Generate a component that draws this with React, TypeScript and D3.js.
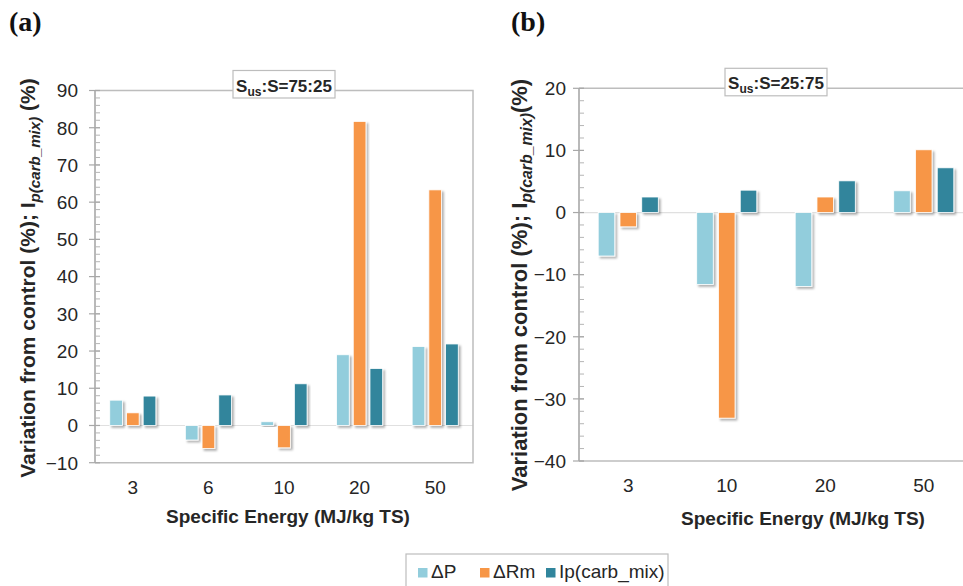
import React, { useEffect, useRef } from "react";
import * as d3 from "d3";

const seriesNames = ["ΔP", "ΔRm", "Ip(carb_mix)"];
const seriesColors = ["#92CDDC", "#F79646", "#31859C"];

const categoriesA = ["3", "6", "10", "20", "50"];
const deltaPA = [6.8, -3.9, 1.0, 19.0, 21.2];
const deltaRmA = [3.4, -6.2, -6.0, 81.7, 63.3];
const ipA = [7.9, 8.2, 11.2, 15.3, 21.9];

const categoriesB = ["3", "10", "20", "50"];
const deltaPB = [-7.0, -11.6, -11.9, 3.5];
const deltaRmB = [-2.3, -33.1, 2.5, 10.1];
const ipB = [2.5, 3.6, 5.1, 7.2];

const W = 963;
const H = 586;

function drawPanel(svg, opt) {
  const { cats, series, x0, x1, yTop, yBot, domain, label, labelX, tickLabelX, catY, xTitleX, xTitleY, yTitleX, yTitleY, yTitleSize, yTitleGap } = opt;
  const g = svg.append("g");

  const x = d3.scaleBand().domain(cats).range([x0, x1]);
  const y = d3.scaleLinear().domain(domain).range([yBot, yTop]);
  const inner = x.bandwidth() * 0.61;
  const xs = d3.scaleBand().domain(seriesNames).range([-inner / 2, inner / 2]).paddingInner(0.24);

  // zero line
  g.append("line").attr("x1", x0).attr("x2", x1).attr("y1", y(0)).attr("y2", y(0))
    .attr("stroke", "#e0e0e0").attr("stroke-width", 1.2);

  // frame
  g.append("path")
    .attr("d", `M${x0},${yTop}H${x1}V${yBot}H${x0}`)
    .attr("fill", "none").attr("stroke", "#bdbdbd").attr("stroke-width", 1.5);

  // axis + ticks
  g.append("line").attr("x1", x0).attr("x2", x0).attr("y1", yTop).attr("y2", yBot)
    .attr("stroke", "#a8a8a8").attr("stroke-width", 1.6);
  const minor = d3.range(domain[0], domain[1] + 0.1, 2);
  g.selectAll(".mt").data(minor).enter().append("line")
    .attr("x1", x0).attr("x2", x0 + 5).attr("y1", d => y(d)).attr("y2", d => y(d))
    .attr("stroke", "#b5b5b5").attr("stroke-width", 1);
  const major = y.ticks((domain[1] - domain[0]) / 10);
  g.selectAll(".Mt").data(major).enter().append("line")
    .attr("x1", x0 - 6).attr("x2", x0 + 5).attr("y1", d => y(d)).attr("y2", d => y(d))
    .attr("stroke", "#a8a8a8").attr("stroke-width", 1.2);
  g.selectAll(".tl").data(major).enter().append("text")
    .attr("x", tickLabelX).attr("y", d => y(d)).attr("dy", "0.36em")
    .attr("text-anchor", "end").attr("font-size", 19).attr("fill", "#262626")
    .text(d => d3.format("d")(d));

  // bars
  series.forEach((vals, si) => {
    g.selectAll(".b" + si).data(vals).enter().append("rect")
      .attr("x", (d, i) => x(cats[i]) + x.bandwidth() / 2 + xs(seriesNames[si]))
      .attr("width", xs.bandwidth())
      .attr("y", d => y(Math.max(0, d)))
      .attr("height", d => Math.abs(y(d) - y(0)))
      .attr("fill", seriesColors[si])
      .attr("stroke", "#ffffff").attr("stroke-width", 0.8)
      .attr("filter", "url(#shadow)");
  });

  // category labels
  g.selectAll(".cl").data(cats).enter().append("text")
    .attr("x", d => x(d) + x.bandwidth() / 2).attr("y", catY)
    .attr("text-anchor", "middle").attr("font-size", 19).attr("fill", "#262626")
    .text(d => d);

  // title box
  const bx = (x0 + x1) / 2;
  const box = g.append("g");
  box.append("rect").attr("x", bx - 51).attr("y", yTop - 20).attr("width", 102).attr("height", 27.5)
    .attr("fill", "#ffffff").attr("stroke", "#bdbdbd").attr("stroke-width", 1.2);
  const tt = box.append("text").attr("x", bx).attr("y", yTop + 1).attr("text-anchor", "middle")
    .attr("font-size", 17).attr("font-weight", "bold").attr("fill", "#262626");
  tt.append("tspan").text("S");
  tt.append("tspan").attr("font-size", 12).attr("dy", 4).text("us");
  tt.append("tspan").attr("dy", -4).text(":" + label);

  // x axis title
  g.append("text").attr("x", xTitleX).attr("y", xTitleY).attr("text-anchor", "middle")
    .attr("font-size", 19).attr("font-weight", "bold").attr("fill", "#262626")
    .text("Specific Energy (MJ/kg TS)");

  // y axis title
  const yt = g.append("text").attr("transform", `translate(${yTitleX},${yTitleY}) rotate(-90)`)
    .attr("text-anchor", "middle").attr("font-size", yTitleSize).attr("font-weight", "bold").attr("fill", "#262626");
  yt.append("tspan").text("Variation from control (%); I");
  yt.append("tspan").attr("font-size", yTitleSize * 0.72).attr("font-style", "italic").attr("dy", 5).text("p(carb_mix)");
  yt.append("tspan").attr("dy", -5).text(yTitleGap + "(%)");

  // panel letter
  svg.append("text").attr("x", labelX).attr("y", 31)
    .attr("font-family", "'Liberation Serif', 'Times New Roman', serif")
    .attr("font-size", 28).attr("font-weight", "bold").attr("fill", "#111")
    .text(opt.letter);
}

export default function App() {
  const ref = useRef(null);
  useEffect(() => {
    const svg = d3.select(ref.current);
    svg.selectAll("*").remove();
    const defs = svg.append("defs");
    const f = defs.append("filter").attr("id", "shadow").attr("x", "-30%").attr("y", "-30%").attr("width", "160%").attr("height", "160%");
    f.append("feDropShadow").attr("dx", 2).attr("dy", 2).attr("stdDeviation", 1.2)
      .attr("flood-color", "#000").attr("flood-opacity", 0.3);

    drawPanel(svg, {
      cats: categoriesA, series: [deltaPA, deltaRmA, ipA],
      x0: 95, x1: 473, yTop: 90.5, yBot: 462.7, domain: [-10, 90],
      label: "S=75:25", letter: "(a)", labelX: 9, tickLabelX: 78, catY: 494,
      xTitleX: 288, xTitleY: 523, yTitleX: 35, yTitleY: 278, yTitleSize: 21, yTitleGap: " ",
    });
    drawPanel(svg, {
      cats: categoriesB, series: [deltaPB, deltaRmB, ipB],
      x0: 579, x1: 973, yTop: 88.3, yBot: 461, domain: [-40, 20],
      label: "S=25:75", letter: "(b)", labelX: 511, tickLabelX: 566, catY: 492,
      xTitleX: 803, xTitleY: 525, yTitleX: 527, yTitleY: 285, yTitleSize: 22, yTitleGap: "",
    });

    // legend
    const lg = svg.append("g");
    lg.append("rect").attr("x", 406).attr("y", 554).attr("width", 262).attr("height", 40)
      .attr("fill", "#fff").attr("stroke", "#bdbdbd").attr("stroke-width", 1.2);
    const lx = [418, 480, 546];
    seriesNames.forEach((n, i) => {
      lg.append("rect").attr("x", lx[i]).attr("y", 568).attr("width", 9.5).attr("height", 9.5).attr("fill", seriesColors[i]);
      lg.append("text").attr("x", lx[i] + 13).attr("y", 578).attr("font-size", 19).attr("fill", "#262626").text(n);
    });
  }, []);
  return (
    <svg ref={ref} width={W} height={H}
      style={{ position: "absolute", left: 0, top: 0, fontFamily: "'Liberation Sans', Arial, sans-serif", background: "#fff" }} />
  );
}
